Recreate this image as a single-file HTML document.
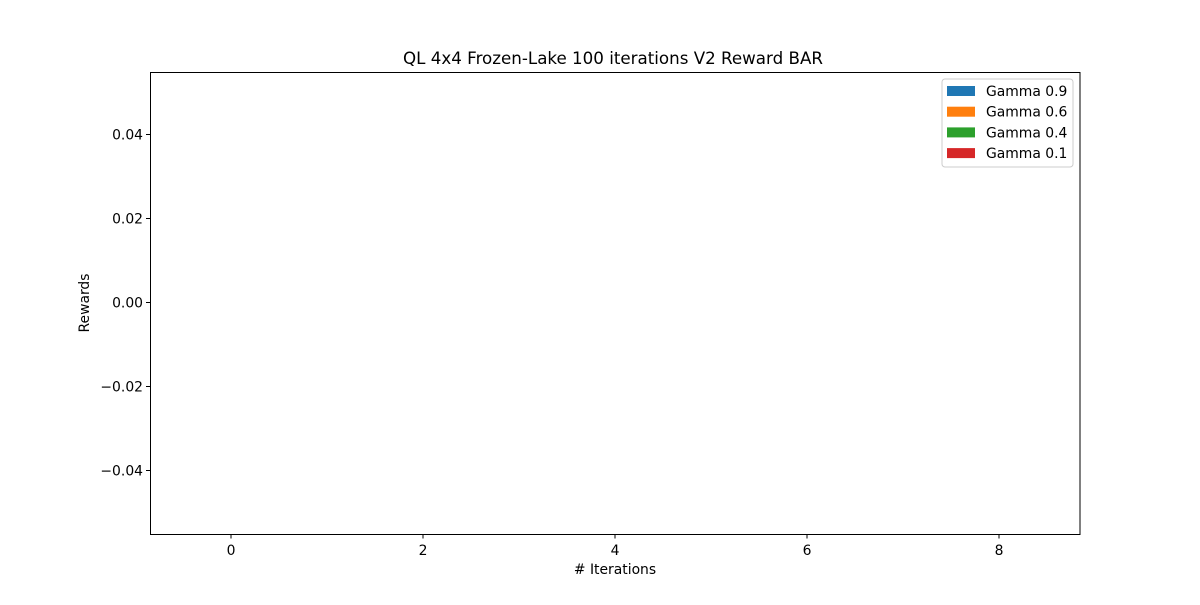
<!DOCTYPE html>
<html><head><meta charset="utf-8"><style>
body{margin:0;background:#fff;}
svg text{font-family:"DejaVu Sans","Liberation Sans",sans-serif;fill:#000;}
</style></head><body>
<svg id="chart" width="1200" height="600" xmlns="http://www.w3.org/2000/svg">
<rect width="1200" height="600" fill="#fff"/>
<text x="613" y="64" font-size="16.7" text-anchor="middle">QL 4x4 Frozen-Lake 100 iterations V2 Reward BAR</text>
<g id="bars"></g>
<g id="axes"></g>
<rect x="150.5" y="72.5" width="929.5" height="462" fill="none" stroke="#000" stroke-width="1"/>
<text x="615" y="574" font-size="13.9" text-anchor="middle"># Iterations</text>
<text transform="translate(89,303) rotate(-90)" font-size="13.9" text-anchor="middle">Rewards</text>
<g>
<rect x="942" y="79" width="131" height="88" fill="#fff" stroke="#ccc" rx="3"/>
<g id="legend-items"></g>
</g>
</svg>
<script>
const categories=[0,1,2,3,4,5,6,7,8];
const seriesNames=["Gamma 0.9","Gamma 0.6","Gamma 0.4","Gamma 0.1"];
const gamma09=[0,0,0,0,0,0,0,0,0];
const gamma06=[0,0,0,0,0,0,0,0,0];
const gamma04=[0,0,0,0,0,0,0,0,0];
const gamma01=[0,0,0,0,0,0,0,0,0];
const xTicks=[0,2,4,6,8];
const yTicks=[-0.04,-0.02,0.00,0.02,0.04];
const yTickLabels=["\u22120.04","\u22120.02","0.00","0.02","0.04"];

const colors=["#1f77b4","#ff7f0e","#2ca02c","#d62728"];
const series=[gamma09,gamma06,gamma04,gamma01];
const NS="http://www.w3.org/2000/svg";
const X=v=>231+(v-0)*96;
const Y=v=>302.5-(v)*(462/0.11);
function mk(t,a,p){const e=document.createElementNS(NS,t);for(const k in a)e.setAttribute(k,a[k]);p.appendChild(e);return e;}
const bars=document.getElementById('bars'), axes=document.getElementById('axes');
const bw=0.2;
series.forEach((s,si)=>{
  s.forEach((v,i)=>{
    const x=X(categories[i]+(si-1.5)*bw-bw/2);
    const y0=Y(0), y1=Y(v);
    const r=mk('rect',{x:x,y:Math.min(y0,y1),width:bw*96,height:Math.abs(y1-y0),fill:colors[si]},bars);
    
    
  });
});
xTicks.forEach(t=>{
  const x=X(t);
  const l=mk('line',{x1:x,x2:x,y1:534.5,y2:538.5,stroke:'#000'},axes);
  
  
  const tx=mk('text',{x:x,y:555,'font-size':13.9,'text-anchor':'middle'},axes);
  tx.textContent=t;
  
  
});
yTicks.forEach((t,i)=>{
  const y=Y(t);
  const l=mk('line',{x1:146,x2:150.5,y1:y,y2:y,stroke:'#000'},axes);
  
  
  const tx=mk('text',{x:143,y:y+5,'font-size':13.9,'text-anchor':'end'},axes);
  tx.textContent=yTickLabels[i];
  
  
});
const lg=document.getElementById('legend-items');
seriesNames.forEach((n,i)=>{
  const y=86+i*20.7;
  const r=mk('rect',{x:947,y:y,width:28,height:10,fill:colors[i]},lg);
  
  
  const t=mk('text',{x:986,y:y+10,'font-size':13.9},lg);
  t.textContent=n;
  
  
});
</script>
</body></html>
